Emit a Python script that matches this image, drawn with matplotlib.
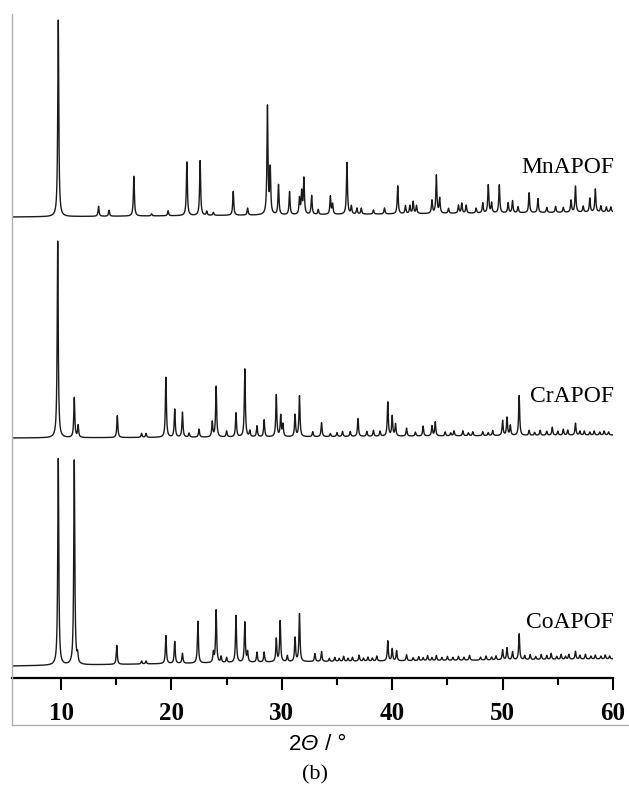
import numpy as np
import matplotlib
matplotlib.use('Agg')
from matplotlib import pyplot as plt
from matplotlib.lines import Line2D

plt.rcParams['font.family'] = 'serif'
plt.rcParams['font.serif'] = ['Liberation Serif', 'DejaVu Serif']

# peak positions (2theta, deg) and heights (a.u.)
mn_pos = [9.75, 13.4, 14.35, 16.6, 18.2, 19.7, 21.4, 22.6, 23.2, 23.8, 25.6, 26.9,
          28.7, 28.95, 29.7, 30.7, 31.6, 31.8, 32.0, 32.7, 33.3, 34.4, 34.6, 35.9,
          36.3, 36.8, 37.2, 38.3, 39.3, 40.5, 41.2, 41.6, 41.9, 42.2, 43.6, 44.0,
          44.3, 45.1, 46.0, 46.3, 46.7, 47.6, 48.2, 48.7, 49.0, 49.7, 50.5, 50.9,
          51.4, 52.4, 53.2, 54.0, 54.8, 55.5, 56.2, 56.6, 57.3, 57.9, 58.4, 58.9,
          59.4, 59.8]
mn_h = [197, 10, 6, 40, 2, 5, 54, 55, 4, 3, 24, 7,
        108, 45, 30, 23, 16, 22, 36, 19, 5, 18, 10, 52,
        8, 6, 6, 4, 6, 28, 8, 8, 12, 8, 13, 38,
        15, 5, 8, 10, 8, 5, 10, 28, 10, 28, 10, 12,
        6, 20, 14, 5, 6, 5, 12, 26, 6, 14, 23, 6,
        5, 5]

cr_pos = [9.7, 11.2, 11.55, 15.1, 17.3, 17.7, 19.5, 20.3, 21.0, 21.6, 22.5, 23.7,
          24.05, 25.0, 25.85, 26.65, 27.1, 27.75, 28.4, 29.5, 29.9, 30.1, 31.2, 31.6,
          32.8, 33.6, 34.4, 35.0, 35.5, 36.2, 36.9, 37.7, 38.3, 38.9, 39.6, 40.0, 40.3,
          41.3, 42.1, 42.8, 43.6, 43.9, 44.8, 45.3, 45.6, 46.4, 46.9, 47.3, 48.2, 48.7,
          49.1, 50.0, 50.4, 50.7, 51.5, 52.4, 52.9, 53.4, 54.0, 54.5, 55.0, 55.5, 55.9,
          56.6, 57.0, 57.4, 57.9, 58.3, 58.8, 59.2, 59.6]
cr_h = [197, 40, 12, 22, 4, 4, 60, 28, 25, 4, 8, 15,
        51, 6, 24, 68, 6, 11, 17, 42, 21, 12, 22, 41,
        5, 14, 3, 4, 5, 5, 18, 5, 6, 5, 34, 20, 12,
        8, 4, 10, 10, 14, 4, 3, 5, 5, 3, 4, 4, 3,
        5, 15, 18, 10, 40, 5, 3, 5, 4, 8, 4, 6, 5,
        12, 4, 4, 3, 4, 3, 4, 3]

co_pos = [9.75, 11.2, 11.5, 15.05, 17.3, 17.7, 19.5, 20.3, 21.0, 22.4, 23.8, 24.05,
          24.5, 25.0, 25.85, 26.65, 26.9, 27.75, 28.4, 29.5, 29.85, 30.5, 31.2, 31.6,
          33.0, 33.6, 34.3, 34.8, 35.2, 35.6, 36.0, 36.4, 37.0, 37.4, 37.8, 38.2, 38.6,
          39.6, 40.0, 40.4, 41.3, 41.9, 42.4, 42.8, 43.2, 43.6, 44.0, 44.5, 45.0, 45.5,
          46.0, 46.5, 47.0, 48.0, 48.5, 49.0, 49.4, 50.0, 50.4, 50.9, 51.5, 52.0,
          52.5, 53.0, 53.5, 54.0, 54.4, 54.9, 55.3, 55.7, 56.0, 56.6, 57.0, 57.5,
          58.0, 58.4, 58.9, 59.3, 59.7]
co_h = [207, 206, 8, 19, 3, 3, 28, 22, 10, 42, 10, 53,
        6, 5, 47, 40, 10, 10, 10, 23, 41, 6, 24, 48,
        8, 10, 3, 4, 3, 5, 3, 4, 6, 3, 4, 3, 5,
        20, 12, 10, 6, 3, 4, 3, 5, 3, 5, 3, 4, 3,
        4, 3, 5, 3, 4, 3, 4, 10, 12, 8, 26, 4,
        5, 3, 5, 4, 6, 3, 5, 3, 5, 8, 4, 5,
        3, 4, 3, 4, 3]

# baseline levels at the start, middle and end of the scan
base_x = [5.56, 30, 60]
mn_base = [461, 463, 466]
cr_base = [240, 241, 243]
co_base = [12, 16, 19]

labels = ['MnAPOF', 'CrAPOF', 'CoAPOF']
label_y = [505, 276, 50]

x = np.linspace(5.56, 60, 6000)


def pattern(pos, h, base):
    y = np.interp(x, base_x, base)
    g = 0.055
    for p, a in zip(pos, h):
        y = y + a * g**2 / ((x - p)**2 + g**2)
    return y


fig = plt.figure(figsize=(6.29, 7.94), dpi=100)
ax = fig.add_axes([12/629, 1-678/794, 601/629, 664/794])

for pos, h, base in [(mn_pos, mn_h, mn_base), (cr_pos, cr_h, cr_base), (co_pos, co_h, co_base)]:
    ax.plot(x, pattern(pos, h, base), c='#1a1a1a', lw=1.0)

for name, ly in zip(labels, label_y):
    ax.text(60.1, ly, name, ha='right', va='baseline', fontsize=17)

ax.set_xlim(5.56, 60)
ax.set_ylim(0, 664)
ax.set_xticks([10, 20, 30, 40, 50, 60])
ax.set_xticks([15, 25, 35, 45, 55], minor=True)
ax.set_yticks([])
for s in ['left', 'right', 'top']:
    ax.spines[s].set_visible(False)
ax.spines['bottom'].set_linewidth(1.6)
ax.tick_params(axis='x', which='major', direction='out', length=8.5, width=1.5,
               pad=9, labelsize=18)
ax.tick_params(axis='x', which='minor', direction='out', length=5, width=1.5)
for t in ax.get_xticklabels():
    t.set_fontweight('bold')

# grey frame around the plot
fig.add_artist(Line2D([12/629, 12/629], [1-725/794, 1-14/794], color='#b0b0b0', lw=1))
fig.add_artist(Line2D([12/629, 1.0], [1-725/794, 1-725/794], color='#b0b0b0', lw=1))

# x axis title: "2" upright, theta italic, then " / °"
t1 = fig.text(301/629, 1-755/794, '2', ha='right', va='bottom', fontsize=16,
              family='Liberation Sans')
t2 = fig.text(0, 0, 'Θ', ha='left', va='bottom', fontsize=16,
              family='Liberation Sans', style='italic')
t2.set_position((301/629, 1-755/794))
fig.text(319/629, 1-755/794, ' / °', ha='left', va='bottom', fontsize=16,
         family='Liberation Sans')
fig.text(315/629, 1-775/794, '(b)', ha='center', va='center', fontsize=16)

fig.savefig('out.png', dpi=100)
